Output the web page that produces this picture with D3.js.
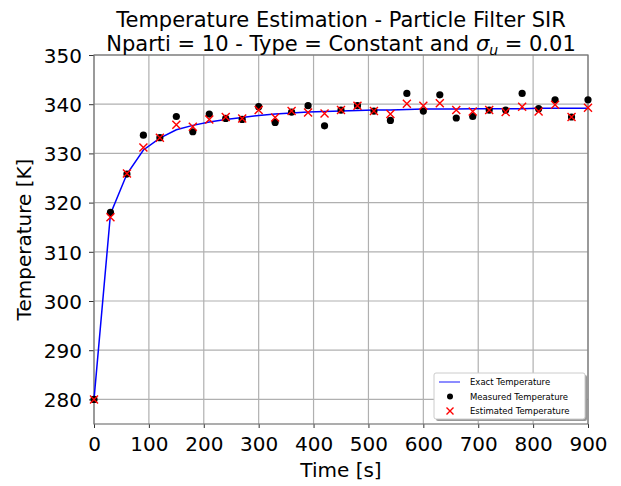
<!DOCTYPE html>
<html>
<head>
<meta charset="utf-8">
<script src="https://cdn.jsdelivr.net/npm/d3@7"></script>
<style>
  body { margin: 0; background: #fff; }
  svg { font-family: "DejaVu Sans", sans-serif; }
</style>
</head>
<body>
<svg id="chart" width="621" height="486"></svg>
<script>
// sample times [s]
const times = [0, 30, 60, 90, 120, 150, 180, 210, 240, 270, 300, 330, 360, 390, 420, 450,
  480, 510, 540, 570, 600, 630, 660, 690, 720, 750, 780, 810, 840, 870, 900];
const exactTemp = [280, 317.7, 325.8, 330.7, 333.1, 334.8, 335.7, 336.4, 336.9, 337.3, 337.7, 338.0,
  338.2, 338.4, 338.5, 338.6, 338.7, 338.8, 338.8, 338.9, 339.0, 339.0, 339.0, 339.1, 339.1, 339.1,
  339.1, 339.2, 339.2, 339.2, 339.2];
const measuredTemp = [280, 318.0, 325.8, 333.7, 333.2, 337.5, 334.4, 338.0, 337.1, 336.9, 339.5, 336.3,
  338.4, 339.7, 335.6, 338.8, 339.7, 338.6, 336.7, 342.2, 338.6, 341.9, 337.2, 337.5, 338.8, 338.8,
  342.2, 339.1, 340.9, 337.4, 340.9];
const estimatedTemp = [280, 317.0, 325.9, 331.2, 333.2, 335.8, 335.4, 336.9, 337.4, 337.1, 338.8, 337.3,
  338.6, 338.3, 338.1, 338.8, 339.7, 338.6, 338.0, 340.1, 339.7, 340.2, 338.8, 338.5, 338.8, 338.4,
  339.5, 338.5, 339.9, 337.4, 339.3];
const xTicks = [0, 100, 200, 300, 400, 500, 600, 700, 800, 900];
const yTicks = [280, 290, 300, 310, 320, 330, 340, 350];

const margin = {top: 55, right: 33, bottom: 62, left: 94};
const width = 621 - margin.left - margin.right;
const height = 486 - margin.top - margin.bottom;

const svg = d3.select('#chart');

const x = d3.scaleLinear().domain([0, 900]).range([0, width]);
const y = d3.scaleLinear().domain([275, 350]).range([height, 0]);

const g = svg.append('g').attr('transform', `translate(${margin.left},${margin.top})`);

// grid
g.append('g').selectAll('line').data(xTicks).join('line')
  .attr('x1', d => x(d)).attr('x2', d => x(d))
  .attr('y1', 0).attr('y2', height)
  .attr('stroke', '#b0b0b0').attr('stroke-width', 1.2);
g.append('g').selectAll('line').data(yTicks).join('line')
  .attr('x1', 0).attr('x2', width)
  .attr('y1', d => y(d)).attr('y2', d => y(d))
  .attr('stroke', '#b0b0b0').attr('stroke-width', 1.2);

// axes
const xAxis = g.append('g').attr('transform', `translate(0,${height})`)
  .call(d3.axisBottom(x).tickValues(xTicks).tickSize(4).tickPadding(9));
const yAxis = g.append('g')
  .call(d3.axisLeft(y).tickValues(yTicks).tickSize(5).tickPadding(7));
[xAxis, yAxis].forEach(a => {
  a.select('.domain').remove();
  a.selectAll('.tick line').attr('stroke', '#333').attr('stroke-width', 1);
  a.selectAll('.tick text').attr('font-size', 20).attr('fill', '#000')
    .attr('font-family', '"DejaVu Sans", sans-serif');
});
yAxis.selectAll('.tick text').attr('dy', '0.36em');

// frame
g.append('rect').attr('width', width).attr('height', height)
  .attr('fill', 'none').attr('stroke', '#777').attr('stroke-width', 1.2);

// exact line
const line = d3.line().x((d, i) => x(times[i])).y(d => y(d));
g.append('path').datum(exactTemp)
  .attr('d', line).attr('fill', 'none').attr('stroke', '#0000ff').attr('stroke-width', 1.5);

// measured
g.append('g').selectAll('circle').data(measuredTemp).join('circle')
  .attr('cx', (d, i) => x(times[i])).attr('cy', d => y(d))
  .attr('r', 3.6).attr('fill', '#000');

// estimated
const crossPath = 'M-4,-4L4,4M-4,4L4,-4';
g.append('g').selectAll('path').data(estimatedTemp).join('path')
  .attr('transform', (d, i) => `translate(${x(times[i])},${y(d)})`)
  .attr('d', crossPath).attr('fill', 'none').attr('stroke', '#ff0000').attr('stroke-width', 1.4);

// titles
const cx = margin.left + width / 2;
svg.append('text').attr('x', cx).attr('y', 27).attr('text-anchor', 'middle')
  .attr('font-size', 21).text('Temperature Estimation - Particle Filter SIR');
const t2 = svg.append('text').attr('x', cx).attr('y', 51).attr('text-anchor', 'middle')
  .attr('font-size', 21);
t2.append('tspan').text('Nparti = 10 - Type = Constant and ');
t2.append('tspan').attr('font-style', 'italic').text('σ');
t2.append('tspan').attr('font-style', 'italic').attr('font-size', 14).attr('dy', 4).text('u');
t2.append('tspan').attr('dy', -4).text(' = 0.01');

svg.append('text').attr('x', cx).attr('y', 477).attr('text-anchor', 'middle')
  .attr('font-size', 20).text('Time [s]');
svg.append('text').attr('transform', `translate(31,${margin.top + height / 2}) rotate(-90)`)
  .attr('text-anchor', 'middle').attr('font-size', 20).text('Temperature [K]');

// legend
const legend = svg.append('g').attr('transform', 'translate(434,373)');
legend.append('rect').attr('x', 2).attr('y', 2).attr('width', 151).attr('height', 46)
  .attr('rx', 2).attr('fill', '#999');
legend.append('rect').attr('width', 151).attr('height', 46)
  .attr('rx', 2).attr('fill', '#fff').attr('stroke', '#ccc').attr('stroke-width', 1);
const items = ['Exact Temperature', 'Measured Temperature', 'Estimated Temperature'];
const entry = legend.selectAll('.legend-entry').data(items).join('g')
  .attr('class', 'legend-entry')
  .attr('transform', (d, i) => `translate(0,${9 + i * 14.5})`);
entry.append('text').attr('x', 36).attr('y', 3).attr('font-size', 8.5).text(d => d);
entry.filter((d, i) => i === 0).append('line')
  .attr('x1', 5).attr('x2', 26).attr('stroke', '#6666ff').attr('stroke-width', 1.5);
entry.filter((d, i) => i === 1).append('circle')
  .attr('cx', 16).attr('r', 3).attr('fill', '#000');
entry.filter((d, i) => i === 2).append('path')
  .attr('transform', 'translate(16,0)').attr('d', 'M-3.5,-3.5L3.5,3.5M-3.5,3.5L3.5,-3.5')
  .attr('fill', 'none').attr('stroke', '#ff0000').attr('stroke-width', 1.4);
</script>
</body>
</html>
